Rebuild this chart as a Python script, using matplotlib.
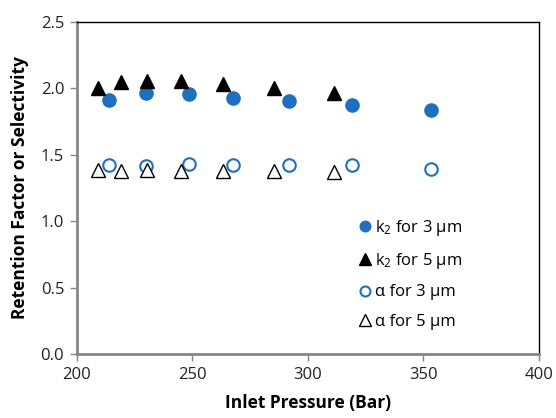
import matplotlib
matplotlib.use("Agg")
import matplotlib.pyplot as plt

plt.rcParams['font.family'] = ['Open Sans', 'DejaVu Sans']
plt.rcParams['mathtext.fontset'] = 'custom'
plt.rcParams['mathtext.rm'] = 'Open Sans'
plt.rcParams['mathtext.it'] = 'Open Sans'

# Data
p_k2_3 = [214.0, 229.8, 248.6, 267.7, 291.8, 319.3, 353.2]
k2_3 = [1.911, 1.962, 1.956, 1.929, 1.901, 1.873, 1.834]
p_k2_5 = [209.3, 219.3, 230.5, 245.2, 263.4, 285.4, 311.2]
k2_5 = [1.999, 2.049, 2.056, 2.056, 2.032, 2.004, 1.962]
p_a_3 = [214.0, 229.8, 248.6, 267.7, 291.8, 319.3, 353.2]
a_3 = [1.422, 1.417, 1.430, 1.420, 1.422, 1.420, 1.394]
p_a_5 = [209.3, 219.3, 230.5, 245.2, 263.4, 285.4, 311.2]
a_5 = [1.385, 1.379, 1.385, 1.379, 1.379, 1.375, 1.369]

xticks = [200, 250, 300, 350, 400]
yticks = [0.0, 0.5, 1.0, 1.5, 2.0, 2.5]

fig = plt.figure(figsize=(5.56, 4.18), dpi=100)
ax = fig.add_axes([0.138, 0.1531, 0.9694 - 0.138, 0.948 - 0.1531])

blue = '#1f6fc0'
ax.plot(p_k2_3, k2_3, 'o', ms=9.5, color=blue, mec=blue, label=r'k$_2$ for 3 µm', zorder=3)
ax.plot(p_k2_5, k2_5, '^', ms=10, color='black', mec='black', label=r'k$_2$ for 5 µm', zorder=3)
ax.plot(p_a_3, a_3, 'o', ms=9, mfc='white', mec=blue, mew=1.5, label='α for 3 µm', zorder=3)
ax.plot(p_a_5, a_5, '^', ms=10, mfc='white', mec='black', mew=1.0, label='α for 5 µm', zorder=3)

ax.set_xlim(200, 400)
ax.set_ylim(0, 2.5)
ax.set_xticks(xticks)
ax.set_yticks(yticks)
ax.set_xticklabels([str(t) for t in xticks])
ax.set_yticklabels([f'{t:.1f}' for t in yticks])

for s in ['left', 'bottom']:
    ax.spines[s].set_color('#868686')
    ax.spines[s].set_linewidth(2)
for s in ['top', 'right']:
    ax.spines[s].set_color('black')
    ax.spines[s].set_linewidth(1)
ax.tick_params(axis='both', direction='out', length=5, width=1, color='#868686',
               labelsize=12, labelcolor='#222222', pad=4)

ax.set_xlabel('Inlet Pressure (Bar)', fontsize=12.5, fontweight='bold', labelpad=8)
ax.set_ylabel('Retention Factor or Selectivity', fontsize=12.5, fontweight='bold', labelpad=8)

leg = ax.legend(loc='upper left', bbox_to_anchor=(0.595, 0.43), frameon=False,
                fontsize=12, handlelength=0.8, handletextpad=0.2, labelspacing=0.8,
                borderaxespad=0, markerscale=0.8)

fig.savefig('out.png', dpi=100)
